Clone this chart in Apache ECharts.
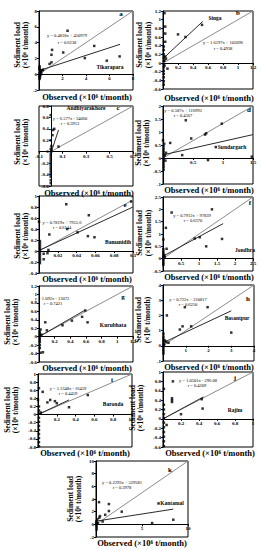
<!DOCTYPE html>
<html><head><meta charset="utf-8">
<script src="https://cdn.jsdelivr.net/npm/echarts@6/dist/echarts.min.js"></script>
<style>html,body{margin:0;padding:0;background:#fff}#c{width:261px;height:550px}</style>
</head><body><div id="c"></div>
<script>
// ---------- data (units: 10^6 t/month) ----------
const letters = ['a','b','c','d','e','f','g','h','i','j','k'];
const stations = ['Tikarapara','Singa','Andhiyarakhore','Sundargarh','Bamanidih','Jondhra','Kurubhata','Basantpur','Baronda','Rajim','Kantamal'];
const equations = ['y = 0.4818x + 450979','y = 1.6197x + 102096','y = 6.577x - 34060','y = 0.587x + 116993','y = 0.7819x + 7955.6','y = 0.7912x + 97839','y = 1.092x - 13072','y = 0.722x + 210817','y = 1.1348x - 16459','y = 1.0501x - 296.08','y = 0.2293x + 529581'];
const rValues = ['r = 0.6238','r = 0.4938','r = 0.3913','r = 0.4567','r = 0.6144','r = 0.6370','r = 0.7421','r = 0.6250','r = 0.4459','r = 0.4209','r = 0.3978'];

// tick definitions: [min, max, interval]
const xTicksA=[0,8,2],   yTicksA=[-2,8,2];
const xTicksB=[0,1.2,0.2], yTicksB=[-0.6,1.2,0.2];
const xTicksC=[-0.1,0.7,0.2], yTicksC=[-0.6,0.8,0.2];
const xTicksD=[0,1.5,0.5], yTicksD=[-1,2,0.5];
const xTicksE=[0,0.1,0.02], yTicksE=[-0.4,1,0.2];
const xTicksF=[0,2.5,0.5], yTicksF=[-0.5,2.5,0.5];
const xTicksG=[0,1.2,0.2], yTicksG=[-0.6,1.2,0.2];
const xTicksH=[0,4,1], yTicksH=[-1,4,1];
const xTicksI=[0,1,0.2], yTicksI=[-0.8,1,0.2];
const xTicksJ=[0,1,0.2], yTicksJ=[-0.6,1,0.2];
const xTicksK=[0,10,5], yTicksK=[-2,10,2];

// observed vs estimated points
const ptsA=[[2.43,5.5],[1.06,2.46],[1.11,3.08],[2.06,2.75],[3.9,2.04],[4.7,3.58],[5.77,1.71],[6.86,2.25],[1.06,1.5],[0.9,1.3],[0.34,0.58],[0.05,1.0],[0.05,0.8],[0.08,0.5],[0.1,0.3],[0.05,0.1],[0.1,0.0],[0.05,-0.2],[0.08,-0.4],[0.05,-0.6],[0.12,-0.1],[0.2,0.2],[0.15,0.4],[0.3,0.5],[0.03,0.65],[0.04,-0.35]];
const ptsB=[[0.02,1.15],[0.03,0.84],[0.03,0.68],[0.03,0.49],[0.2,0.66],[0.3,0.6],[0.52,0.88],[0.06,-0.13],[0.01,-0.5],[0.01,-0.42],[0.01,-0.33],[0.01,-0.25],[0.01,-0.18],[0.01,-0.1],[0.01,-0.03],[0.01,0.04],[0.01,0.12],[0.01,0.2],[0.01,0.3],[0.01,0.38],[0.02,0.06],[0.02,-0.06],[0.03,0.15],[0.04,0.1]];
const ptsC=[[0,0.64],[0.02,0.38],[0.03,0.4],[0.015,0.29],[0.066,0.09],[0,0.2],[0.005,0.1],[0,0.05],[0.003,0],[0,-0.04],[0,-0.08],[0,-0.12],[0,-0.16],[0,-0.2],[0,-0.24],[0,-0.28],[0,-0.32],[0,-0.36],[0,-0.4],[0,-0.44],[0,-0.5],[0,-0.55],[0.005,0.02]];
const ptsD=[[0.38,1.45],[0.98,1.32],[0.7,0.9],[0.72,0.95],[0.47,0.75],[0.12,0.58],[0,0.68],[0.02,0.55],[0.32,0.11],[0.88,0.42],[0.75,-0.08],[1.48,0.05],[0.01,0.45],[0.01,0.35],[0.01,0.25],[0.01,0.15],[0.01,0.05],[0.01,-0.05],[0.01,-0.15],[0.01,-0.25],[0.01,-0.35],[0.01,-0.45],[0.03,0.1],[0.05,0.2],[0.04,-0.1]];
const ptsE=[[0.029,0.85],[0.053,0.65],[0.098,0.9],[0,0.53],[0.011,0.3],[0.03,0.4],[0.041,0.34],[0.052,0.27],[0.059,0.25],[0.005,-0.05],[0.005,-0.15],[0.009,-0.04],[0.01,0.02],[0.001,0.18],[0.001,0.14],[0.001,0.1],[0.001,0.06],[0.001,0.02],[0.001,-0.02],[0.001,-0.06],[0.001,-0.1],[0.001,-0.14],[0.001,-0.18],[0.001,-0.22]];
const ptsF=[[0.24,1.87],[1.36,2.0],[0.08,1.25],[0.01,0.78],[0.88,0.82],[1.02,0.87],[1.2,0.5],[1.64,0.8],[0.1,0.4],[0.01,0.38],[0.01,0.28],[0.01,0.2],[0.01,0.12],[0.01,0.05],[0.01,-0.02],[0.01,-0.1],[0.01,-0.18],[0.01,-0.25],[0.03,0.15],[0.05,0.08]];
const ptsG=[[0.59,0.62],[0.55,0.47],[0.42,0.38],[0.3,0.27],[0.62,0.34],[0.08,0.34],[0.1,0.15],[0.01,0.12],[0.01,0.07],[0.01,0.02],[0.01,-0.03],[0.01,-0.08],[0.01,-0.13],[0.01,-0.2],[0.01,-0.27],[0.02,-0.38],[0.05,-0.37],[0.03,0.05],[0.02,0.17]];
const ptsH=[[0.17,2.0],[0.96,2.54],[1.96,2.54],[0.74,1.07],[0.86,1.28],[1.24,1.28],[3.0,0.87],[0.14,0.26],[0.24,0.2],[0.02,0.8],[0.02,0.6],[0.02,0.45],[0.02,0.3],[0.02,0.15],[0.02,0.05],[0.02,-0.05],[0.02,-0.2],[0.02,-0.35],[0.02,-0.5],[0.05,0.1],[0.08,0.35]];
const ptsI=[[0.01,0.65],[0.05,0.56],[0.13,0.36],[0.18,0.33],[0.53,0.48],[0,0.36],[0.1,0.3],[0.2,0.28],[0.33,0.18],[0.01,0.2],[0.01,0.1],[0.01,0.02],[0.01,-0.08],[0.01,-0.18],[0.01,-0.28],[0.01,-0.38],[0.01,-0.48],[0.01,-0.58],[0.01,-0.68],[0.01,-0.78],[0.03,0.05]];
const ptsJ=[[0.11,0.8],[0.01,0.64],[0.1,0.44],[0.1,0.4],[0.43,0.42],[0.1,0.36],[0.2,0.1],[0.44,0.22],[0.01,0.3],[0.01,0.2],[0.01,0.1],[0.01,0.02],[0.01,-0.08],[0.01,-0.18],[0.01,-0.28],[0.01,-0.38],[0.01,-0.48],[0.01,-0.58],[0.04,-0.13]];
const ptsK=[[0.33,3.5],[1.4,3.2],[1.4,2.1],[1.0,1.5],[0.43,1.3],[0.72,0.45],[2.8,2.0],[6.8,3.3],[6.1,0.2],[8.4,0.73],[0.36,1.05],[0.15,0.8],[0.05,0.5],[0.05,0.3],[0.05,0.1],[0.05,-0.1],[0.07,-0.4],[0.07,-0.8],[0.2,0.2]];

// 1:1 reference lines and regression lines
const oneA=[[0,0],[8,8]], regA=[[0.1,0.5],[6.9,3.78]];
const oneB=[[0,0],[1.2,1.2]], regB=[[0,0.1],[0.53,0.96]];
const oneC=[[0,0],[0.7,0.8]], regC=[[0.002,-0.02],[0.066,0.38]];
const oneD=[[0,0],[1.5,2]], regD=[[0,0.12],[1.5,0.9]];
const oneE=[[0,0],[0.1,0.93]], regE=[[0,0.01],[0.1,0.8]];
const oneF=[[0,0],[2.5,2.5]], regF=[[0,0.1],[1.67,1.42]];
const oneG=[[0,0],[1.2,1.2]], regG=[[0,0],[0.58,0.62]];
const oneH=[[0,0],[4,4]], regH=[[0,0.2],[3,2.3]];
const oneI=[[0,0],[1,1]], regI=[[0,0],[0.33,0.36]];
const oneJ=[[0,0],[1,1]], regJ=[[0,0],[0.45,0.47]];
const oneK=[[0,0],[10,10]], regK=[[0,0.5],[8.4,2.4]];

// ---------- layout (pixels) ----------
const layout = [
 {g:[39,11,94,79], eq:[67,35], r:[67,42], st:[110,67], lt:[121,14], yt:[17,25,45], ob:[87,97]},
 {g:[163,11,90,78], eq:[223,42], r:[223,48], st:[215,18], lt:[238,13], yt:[139,148,45], ob:[209,98]},
 {g:[39,106,94,80], eq:[70,118], r:[70,123], st:[86,108], lt:[118,108], yt:[17,25,142], ob:[89,193]},
 {g:[163,106,90,78], eq:[183,110], r:[183,115], st:[232,147], lt:[249,110], yt:[138,146,143], ob:[209,190]},
 {g:[39,196,94,77], eq:[62,222], r:[62,227], st:[118,242], lt:[125,205], yt:[17,25,236], ob:[87,279]},
 {g:[163,197,90,74], eq:[192,215], r:[193,220], st:[245,250], lt:[250,203], yt:[139,148,233], ob:[209,277]},
 {g:[39,286,94,76], eq:[52,298], r:[53,303], st:[113,325], lt:[123,297], yt:[7,15,322], ob:[87,368]},
 {g:[163,285,91,76], eq:[188,299], r:[188,304], st:[237,318], lt:[248,299], yt:[138,147,320], ob:[209,367]},
 {g:[38,374,94,73], eq:[68,388], r:[68,393], st:[113,404], lt:[112,380], yt:[7,15,410], ob:[85,453]},
 {g:[163,372,90,75], eq:[198,380], r:[197,385], st:[235,410], lt:[235,378], yt:[132,140,408], ob:[210,453]},
 {g:[96,461,92,76], eq:[122,482], r:[122,487], st:[172,503], lt:[170,470], yt:[70,78,499], ob:[142,543]}
];
const pts=[ptsA,ptsB,ptsC,ptsD,ptsE,ptsF,ptsG,ptsH,ptsI,ptsJ,ptsK];
const ones=[oneA,oneB,oneC,oneD,oneE,oneF,oneG,oneH,oneI,oneJ,oneK];
const regs=[regA,regB,regC,regD,regE,regF,regG,regH,regI,regJ,regK];
const xT=[xTicksA,xTicksB,xTicksC,xTicksD,xTicksE,xTicksF,xTicksG,xTicksH,xTicksI,xTicksJ,xTicksK];
const yT=[yTicksA,yTicksB,yTicksC,yTicksD,yTicksE,yTicksF,yTicksG,yTicksH,yTicksI,yTicksJ,yTicksK];

const SERIF='"Liberation Serif","Times New Roman",serif';
const fmt=v=>String(+(+v).toFixed(3));
const grids=[],xAxes=[],yAxes=[],series=[],graphics=[];
layout.forEach((L,i)=>{
  grids.push({left:L.g[0],top:L.g[1],width:L.g[2],height:L.g[3],show:true,borderColor:'#000',borderWidth:1,containLabel:false});
  const mk=()=>({gridIndex:i,type:'value',splitLine:{show:false},
    axisLine:{show:true,onZero:false,lineStyle:{color:'#000',width:1}},
    axisTick:{show:true,length:2,lineStyle:{color:'#000'}}});
  // x axis drawn along y = 0, y axis along x = 0 (moved inward from the grid edge)
  const xOff=-L.g[3]*Math.max(0,-yT[i][0])/(yT[i][1]-yT[i][0]);
  const yOff=-L.g[2]*Math.max(0,-xT[i][0])/(xT[i][1]-xT[i][0]);
  xAxes.push(Object.assign(mk(),{min:xT[i][0],max:xT[i][1],interval:xT[i][2],offset:xOff,
    axisLabel:{fontFamily:SERIF,fontSize:5,fontWeight:'bold',color:'#000',margin:2,
      formatter:v=>Math.abs(v)<1e-9?'':fmt(v)}}));
  yAxes.push(Object.assign(mk(),{min:yT[i][0],max:yT[i][1],interval:yT[i][2],offset:yOff,
    axisLabel:{fontFamily:SERIF,fontSize:5,fontWeight:'bold',color:'#000',margin:2,formatter:v=>fmt(v)}}));
  series.push({type:'line',xAxisIndex:i,yAxisIndex:i,data:ones[i],symbol:'none',animation:false,
    lineStyle:{color:'#8c8c8c',width:1},z:5});
  series.push({type:'line',xAxisIndex:i,yAxisIndex:i,data:regs[i],symbol:'none',animation:false,
    lineStyle:{color:'#2a2a2a',width:1},z:6});
  series.push({type:'scatter',xAxisIndex:i,yAxisIndex:i,data:pts[i],symbol:'rect',symbolSize:2.5,
    itemStyle:{color:'#000'},z:7});
  const t=(txt,x,y,font,rot)=>graphics.push({type:'text',x:x,y:y,rotation:rot||0,z:10,
    style:{text:txt,font:font,fill:'#000',textAlign:'center',textVerticalAlign:'middle'}});
  t(equations[i],L.eq[0],L.eq[1],'4.5px '+SERIF);
  t(rValues[i],L.r[0],L.r[1],'4.5px '+SERIF);
  t(stations[i],L.st[0],L.st[1],'bold 5.5px '+SERIF);
  t(letters[i],L.lt[0],L.lt[1],'bold 7px '+SERIF);
  t('Sediment load',L.yt[0],L.yt[2],'bold 7.5px '+SERIF,Math.PI/2);
  t('(×10⁶ t/month)',L.yt[1],L.yt[2],'bold 7.5px '+SERIF,Math.PI/2);
  t('Observed (×10⁶ t/month)',L.ob[0],L.ob[1],'bold 8.5px '+SERIF);
});
const chart=echarts.init(document.getElementById('c'),null,{renderer:'svg'});
chart.setOption({animation:false,grid:grids,xAxis:xAxes,yAxis:yAxes,series:series,graphic:graphics});
</script></body></html>
